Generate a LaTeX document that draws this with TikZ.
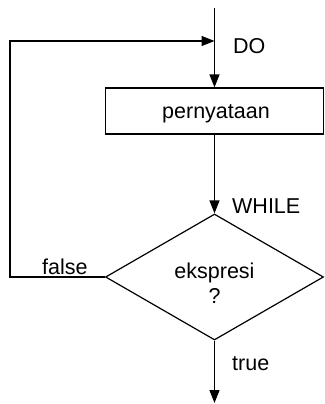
\documentclass[tikz,border=0pt]{standalone}
\usepackage{fontspec}
\setmainfont{Liberation Sans}
\usetikzlibrary{arrows.meta,shapes.geometric}
\tikzset{
  line/.style={draw=black, line width=1.2pt},
  arr/.style={line, -{Triangle[length=13pt,width=10pt]}},
  lbl/.style={inner sep=0pt, anchor=base west, font=\fontsize{21.5}{25}\selectfont},
  ctr/.style={inner sep=0pt, anchor=base, font=\fontsize{21.5}{25}\selectfont},
}
\begin{document}
\begin{tikzpicture}[x=1pt,y=-1pt]
\useasboundingbox (0,0) rectangle (324,404);
% shapes
\node[line, rectangle, minimum width=218pt, minimum height=46pt, inner sep=0pt] (box) at (214.5,111) {};
\node[ctr] (boxtext) at (216,118) {pernyataan};
\node[line, diamond, minimum width=218pt, minimum height=126pt, inner sep=0pt] (dia) at (214.5,277) {};
\node[ctr] (dtext1) at (214.5,278) {ekspresi};
\node[ctr] (dtext2) at (214.5,303) {?};
% coordinates
\coordinate (top) at (214.5,8);
\coordinate (join) at (214.5,41);
\coordinate (lb) at (10,277);
\coordinate (bot) at (214.5,403);
% connectors
\draw[arr] (top) -- (box.north);
\draw[arr] (dia.west) -- (lb) |- (join);
\draw[arr] (box.south) -- (dia.north);
\draw[arr] (dia.south) -- (bot);
% labels
\node[lbl] (do) at (233,53) {DO};
\node[lbl] (while) at (232,213) {WHILE};
\node[lbl] (false) at (42,274) {false};
\node[lbl] (true) at (232,370) {true};
\end{tikzpicture}
\end{document}
